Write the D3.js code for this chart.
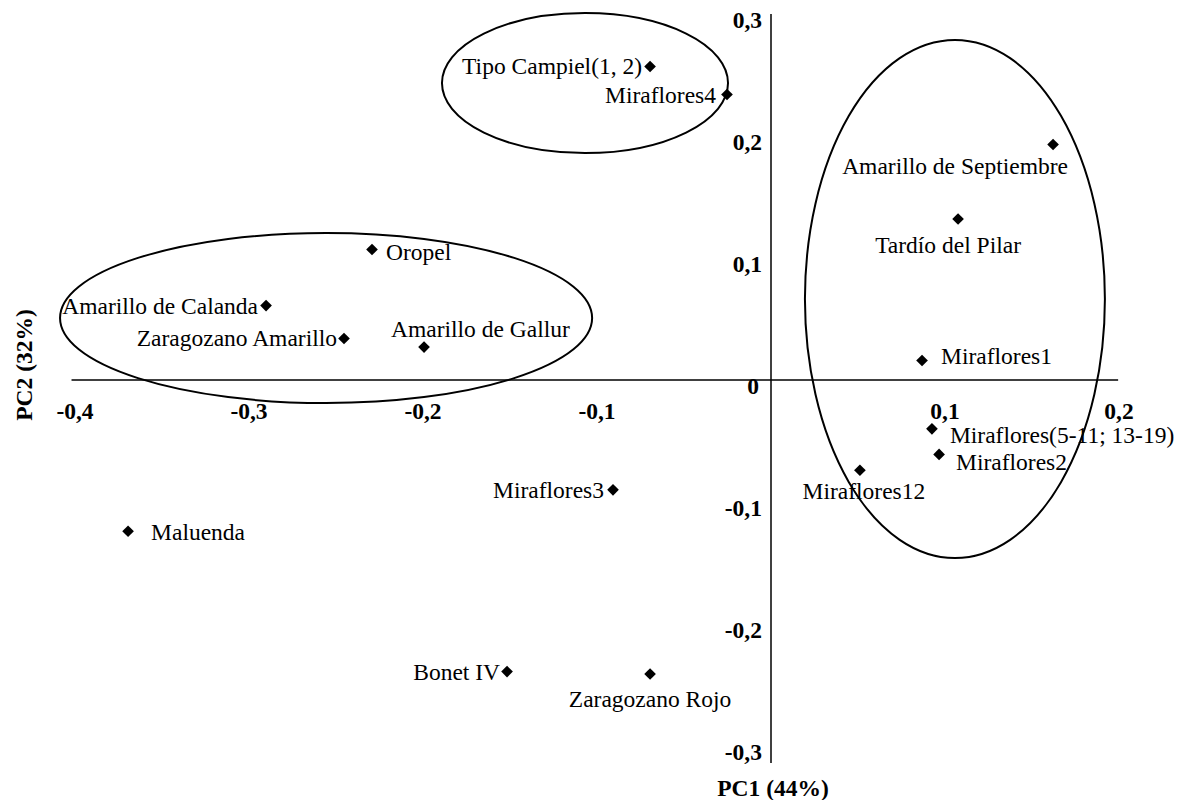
<!DOCTYPE html>
<html><head><meta charset="utf-8">
<script src="https://cdn.jsdelivr.net/npm/d3@7"></script>
<style>body{margin:0;background:#fff}</style>
</head><body>
<svg id="chart" width="1185" height="800"></svg>
<script>
// ---- data ----
const names = ["Tipo Campiel(1, 2)","Miraflores4","Amarillo de Septiembre","Tardío del Pilar",
  "Oropel","Amarillo de Calanda","Zaragozano Amarillo","Amarillo de Gallur","Miraflores1",
  "Miraflores(5-11; 13-19)","Miraflores2","Miraflores12","Miraflores3","Maluenda","Bonet IV","Zaragozano Rojo"];
const pc1 = [-0.0695,-0.0253,0.1621,0.1075,-0.2293,-0.2902,-0.2454,-0.1994,0.0868,0.0925,0.0966,0.0511,-0.0908,-0.3695,-0.1517,-0.0695];
const pc2 = [0.257,0.234,0.193,0.132,0.107,0.061,0.034,0.027,0.016,-0.040,-0.061,-0.074,-0.090,-0.124,-0.239,-0.241];
const xTicks = [-0.4,-0.3,-0.2,-0.1,0.1,0.2];
const xTickLabels = ["-0,4","-0,3","-0,2","-0,1","0,1","0,2"];
const yTicks = [0.3,0.2,0.1,0,-0.1,-0.2,-0.3];
const yTickLabels = ["0,3","0,2","0,1","0","-0,1","-0,2","-0,3"];
// grouping ellipses (centre and radii in PC units)
const groupCx = [-0.1069,-0.2557,0.1057];
const groupCy = [0.2434,0.0508,0.0664];
const groupRx = [0.0822,0.1529,0.0862];
const groupRy = [0.0574,0.0697,0.2123];
const xTitle = "PC1 (44%)";
const yTitle = "PC2 (32%)";

// ---- layout (label offsets in px, anchor) ----
const labelLayout = [
  [-8,8,"end"],[-11,8,"end"],[-98,29,"middle"],[-10,34,"middle"],
  [14,11,"start"],[-8,8,"end"],[-7,7,"end"],[-33,-10,"start"],[19,4,"start"],
  [18,14,"start"],[17,16,"start"],[4,29,"middle"],[-9,8,"end"],[23,9,"start"],[-7,8,"end"],[0,33,"middle"]
];

const svg = d3.select("#chart");
const font = "'Liberation Serif','Times New Roman',serif";
const x = d3.scaleLinear().domain([-0.4,0.2]).range([75,1119]);
const y = d3.scaleLinear().domain([-0.3,0.3]).range([746,14]);

// axes lines
svg.append("line").attr("x1",x(-0.402)).attr("x2",x(0.1995)).attr("y1",y(0)).attr("y2",y(0))
  .attr("stroke","#000").attr("stroke-width",1.5);
svg.append("line").attr("x1",x(0)).attr("x2",x(0)).attr("y1",y(0.3)).attr("y2",y(-0.314))
  .attr("stroke","#000").attr("stroke-width",1.5);

// tick labels
svg.selectAll(".xt").data(xTicks).join("text").attr("class","xt")
  .attr("x",d=>x(d)).attr("y",y(0)+39).attr("text-anchor","middle")
  .attr("font-family",font).attr("font-size",23.5).attr("font-weight","bold")
  .text((d,i)=>xTickLabels[i]);
svg.selectAll(".yt").data(yTicks).join("text").attr("class","yt")
  .attr("x",d=>x(0)-(d===0?12:9)).attr("y",d=>y(d)+14).attr("text-anchor","end")
  .attr("font-family",font).attr("font-size",23.5).attr("font-weight","bold")
  .text((d,i)=>yTickLabels[i]);

// axis titles
svg.append("text").attr("x",x(0)+2).attr("y",796).attr("text-anchor","middle")
  .attr("font-family",font).attr("font-size",23.5).attr("font-weight","bold").text(xTitle);
svg.append("text").attr("transform","translate(32,"+(y(0)-15)+") rotate(-90)").attr("text-anchor","middle")
  .attr("font-family",font).attr("font-size",23.5).attr("font-weight","bold").text(yTitle);

// ellipses
svg.selectAll(".grp").data(groupCx).join("ellipse").attr("class","grp")
  .attr("cx",d=>x(d)).attr("cy",(d,i)=>y(groupCy[i]))
  .attr("rx",(d,i)=>x(d+groupRx[i])-x(d)).attr("ry",(d,i)=>y(groupCy[i]-groupRy[i])-y(groupCy[i]))
  .attr("fill","none").attr("stroke","#000").attr("stroke-width",2);

// points
const pts = names.map((n,i)=>({n, px:pc1[i], py:pc2[i], l:labelLayout[i]}));
const diamond = d3.symbol().type(d3.symbolSquare).size(68);
svg.selectAll(".pt").data(pts).join("path").attr("class","pt")
  .attr("d",diamond).attr("fill","#000")
  .attr("transform",d=>`translate(${x(d.px)},${y(d.py)}) rotate(45)`);
svg.selectAll(".lbl").data(pts).join("text").attr("class","lbl")
  .attr("x",d=>x(d.px)+d.l[0]).attr("y",d=>y(d.py)+d.l[1]).attr("text-anchor",d=>d.l[2])
  .attr("font-family",font).attr("font-size",23.5).attr("fill","#000")
  .text(d=>d.n);
</script>
</body></html>
